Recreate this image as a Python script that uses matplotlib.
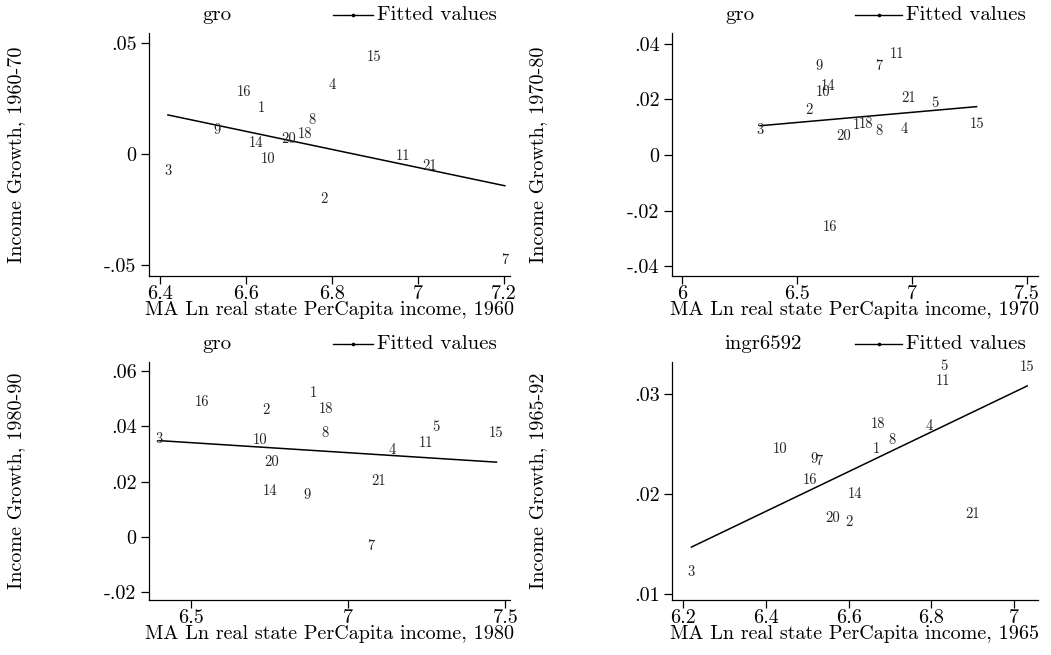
import numpy as np
import matplotlib
matplotlib.use("Agg")
import matplotlib.pyplot as plt
from matplotlib.ticker import FixedLocator, FuncFormatter

plt.rcParams['font.family'] = ['cmr10', 'DejaVu Serif']
plt.rcParams['axes.unicode_minus'] = False
plt.rcParams['mathtext.fontset'] = 'cm'

# ---------------- data ----------------
p1_labels = ["15", "4", "16", "1", "8", "9", "18", "20", "14", "10", "3", "11", "21", "2", "7"]
p1_x = [6.898, 6.800, 6.596, 6.636, 6.754, 6.532, 6.736, 6.700, 6.623, 6.650, 6.418, 6.966, 7.026, 6.780, 7.202]
p1_y = [0.0419, 0.0294, 0.0261, 0.0192, 0.0137, 0.0090, 0.0072, 0.0051, 0.0034, -0.0041, -0.0095, -0.0024, -0.0071, -0.0221, -0.0494]

p2_labels = ["11", "9", "7", "14", "10", "21", "5", "2", "3", "1", "18", "8", "4", "15", "20", "16"]
p2_x = [6.932, 6.596, 6.854, 6.632, 6.612, 6.984, 7.099, 6.550, 6.338, 6.755, 6.797, 6.855, 6.965, 7.280, 6.700, 6.642]
p2_y = [0.0348, 0.0306, 0.0306, 0.0235, 0.0212, 0.0190, 0.0172, 0.0148, 0.0076, 0.0094, 0.0096, 0.0072, 0.0078, 0.0096, 0.0054, -0.0272]

p3_labels = ["1", "16", "18", "2", "5", "8", "15", "3", "10", "11", "4", "20", "21", "14", "9", "7"]
p3_x = [6.890, 6.538, 6.932, 6.738, 7.280, 6.928, 7.472, 6.400, 6.720, 7.248, 7.141, 6.757, 7.098, 6.752, 6.871, 7.073]
p3_y = [0.0506, 0.0473, 0.0449, 0.0443, 0.0382, 0.0361, 0.0361, 0.0341, 0.0335, 0.0325, 0.0301, 0.0255, 0.0187, 0.0151, 0.0136, -0.0048]

p4_labels = ["5", "15", "11", "18", "4", "8", "10", "1", "9", "7", "16", "14", "20", "2", "21", "3"]
p4_x = [6.829, 7.031, 6.829, 6.670, 6.794, 6.705, 6.435, 6.668, 6.516, 6.529, 6.508, 6.616, 6.562, 6.600, 6.900, 6.221]
p4_y = [0.03237, 0.03224, 0.03086, 0.0266, 0.02635, 0.02495, 0.02411, 0.02411, 0.02311, 0.02284, 0.0210, 0.01953, 0.0172, 0.01682, 0.0176, 0.01174]

series_names = ["gro", "gro", "gro", "ingr6592"]
fit_name = "Fitted values"
y_titles = ["Income Growth, 1960-70", "Income Growth, 1970-80", "Income Growth, 1980-90", "Income Growth, 1965-92"]
x_titles = ["MA Ln real state PerCapita income, 1960", "MA Ln real state PerCapita income, 1970",
            "MA Ln real state PerCapita income, 1980", "MA Ln real state PerCapita income, 1965"]
x_ticks = [[6.4, 6.6, 6.8, 7.0, 7.2], [6.0, 6.5, 7.0, 7.5], [6.5, 7.0, 7.5], [6.2, 6.4, 6.6, 6.8, 7.0]]
y_ticks = [[-0.05, 0, 0.05], [-0.04, -0.02, 0, 0.02, 0.04], [-0.02, 0, 0.02, 0.04, 0.06], [0.01, 0.02, 0.03]]
x_lims = [(6.374, 7.214), (5.955, 7.547), (6.368, 7.515), (6.174, 7.057)]
y_lims = [(-0.0548, 0.0546), (-0.0435, 0.0439), (-0.0229, 0.0633), (0.00937, 0.03317)]

panels = [(p1_labels, p1_x, p1_y), (p2_labels, p2_x, p2_y), (p3_labels, p3_x, p3_y), (p4_labels, p4_x, p4_y)]

# ---------------- figure ----------------
W, H = 1051, 655
fig = plt.figure(figsize=(W / 100, H / 100), dpi=100)

boxes = [(149, 33, 510, 276), (672, 33, 1038, 276), (149, 362, 510, 600), (672, 362, 1038, 600)]
ylabel_px = [25, 547, 25, 547]
hdr_name_px = [217, 740, 217, 763]
hdr_line_px = [(333, 373), (855, 902), (333, 373), (855, 902)]
FS = 14.5
HFS = 15


def fmt_num(v, pos=None):
    if abs(v) < 1e-12:
        return "0"
    s = ("%g" % v)
    if s.startswith("0."):
        s = s[1:]
    elif s.startswith("-0."):
        s = "-" + s[2:]
    return s


def fmt_x(v, pos=None):
    return "%g" % round(v, 3)


for i, (box, (labs, xs, ys)) in enumerate(zip(boxes, panels)):
    l, t, r, b = box
    w, h = r - l, b - t
    ax = fig.add_axes([l / W, 1 - b / H, w / W, h / H])
    ax.set_facecolor("white")
    for sp in ["top", "right"]:
        ax.spines[sp].set_visible(False)
    for sp in ["left", "bottom"]:
        ax.spines[sp].set_linewidth(0.9)
        ax.spines[sp].set_color("black")

    xs_a = np.array(xs)
    ys_a = np.array(ys)
    for lab, x, y in zip(labs, xs, ys):
        ax.text(x, y, lab, ha="center", va="baseline", fontsize=10.5, color="#222222")

    coef = np.polyfit(xs_a, ys_a, 1)
    xx = np.array([xs_a.min(), xs_a.max()])
    ax.plot(xx, np.polyval(coef, xx), color="black", lw=1.1)

    ax.set_xlim(*x_lims[i])
    ax.set_ylim(*y_lims[i])
    ax.xaxis.set_major_locator(FixedLocator(x_ticks[i]))
    ax.yaxis.set_major_locator(FixedLocator(y_ticks[i]))
    ax.xaxis.set_major_formatter(FuncFormatter(fmt_x))
    ax.yaxis.set_major_formatter(FuncFormatter(fmt_num))
    ax.tick_params(axis="both", direction="out", length=6, width=0.9, labelsize=FS, colors="black")
    ax.tick_params(axis="x", pad=0.5)
    ax.tick_params(axis="y", pad=3)

    ax.set_xlabel(x_titles[i], fontsize=FS, labelpad=-1.5)
    ax.set_ylabel(y_titles[i], fontsize=FS)
    ax.yaxis.set_label_coords((ylabel_px[i] - l) / w, 0.5)

    # legend header
    hy = 1 + 18 / h
    ax.text((hdr_name_px[i] - l) / w, hy, series_names[i],
            transform=ax.transAxes, ha="center", va="center", fontsize=HFS, clip_on=False)
    x0 = (hdr_line_px[i][0] - l) / w
    x1 = (hdr_line_px[i][1] - l) / w
    ax.plot([x0, x1], [hy, hy], transform=ax.transAxes, color="black", lw=1.0, clip_on=False)
    ax.plot([(x0 + x1) / 2], [hy], transform=ax.transAxes, marker="o", ms=1.6, color="black",
            clip_on=False)
    ax.text(x1 + 4 / w, hy, fit_name, transform=ax.transAxes, ha="left", va="center",
            fontsize=HFS, clip_on=False)

fig.savefig("out.png", dpi=100, facecolor="white")
